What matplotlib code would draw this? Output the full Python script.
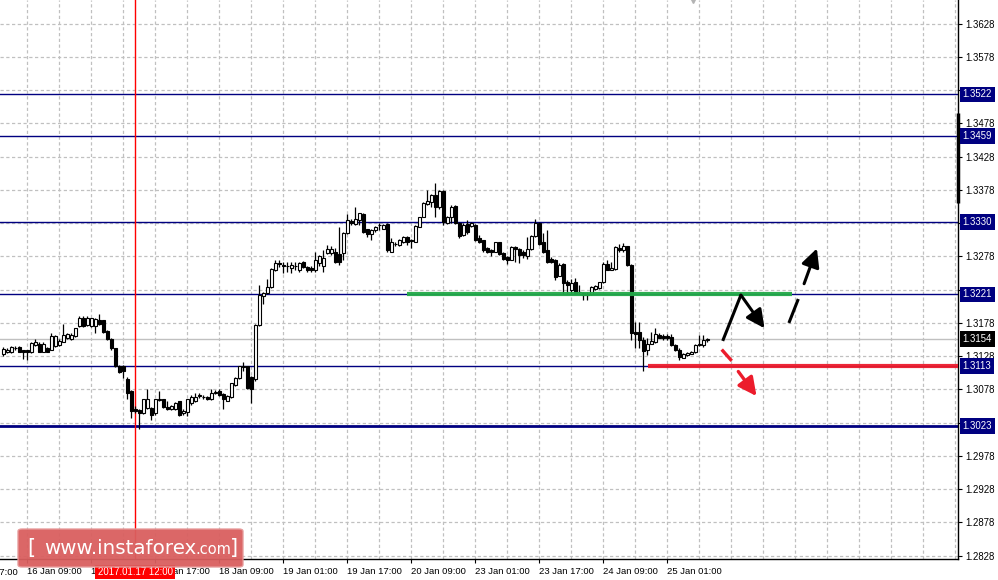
import matplotlib
matplotlib.use("Agg")
import matplotlib.pyplot as plt
import matplotlib.transforms as mtransforms
from matplotlib.patches import FancyBboxPatch, FancyArrowPatch
import numpy as np

# ---------------- data (H1 candles) -------------
opens = [1.3132,1.3134,1.3134,1.3140,1.3142,1.3137,1.3137,1.3134,1.3145,1.3147,
         1.3135,1.3140,1.3138,1.3144,1.3145,1.3150,1.3155,1.3154,1.3159,1.3173,
         1.3186,1.3175,1.3173,1.3173,1.3183,1.3182,1.3166,1.3154,1.3140,1.3113,
         1.3113,1.3094,1.3075,1.3048,1.3047,1.3043,1.3050,1.3050,1.3042,1.3062,
         1.3063,1.3052,1.3049,1.3049,1.3060,1.3042,1.3044,1.3057,1.3060,1.3068,
         1.3067,1.3067,1.3063,1.3073,1.3075,1.3071,1.3061,1.3066,1.3085,1.3095,
         1.3112,1.3113,1.3097,1.3093,1.3175,1.3219,1.3223,1.3232,1.3257,1.3268,
         1.3265,1.3263,1.3260,1.3264,1.3258,1.3270,1.3262,1.3260,1.3258,1.3268,
         1.3263,1.3283,1.3283,1.3285,1.3282,1.3283,1.3313,1.3332,1.3327,1.3333,
         1.3342,1.3319,1.3312,1.3318,1.3325,1.3320,1.3327,1.3285,1.3297,1.3295,
         1.3299,1.3307,1.3302,1.3300,1.3323,1.3338,1.3357,1.3360,1.3370,1.3352,
         1.3377,1.3329,1.3337,1.3354,1.3329,1.3310,1.3327,1.3324,1.3325,1.3305,
         1.3302,1.3290,1.3288,1.3285,1.3299,1.3283,1.3277,1.3273,1.3292,1.3289,
         1.3285,1.3279,1.3289,1.3309,1.3328,1.3299,1.3287,1.3274,1.3273,1.3249,
         1.3267,1.3240,1.3228,1.3239,1.3225,1.3223,1.3220,1.3222,1.3229,1.3230,
         1.3239,1.3267,1.3258,1.3259,1.3290,1.3287,1.3293,1.3265,1.3165,1.3164,
         1.3153,1.3138,1.3147,1.3150,1.3160,1.3158,1.3158,1.3157,1.3145,1.3138,
         1.3126,1.3130,1.3132,1.3135,1.3145,1.3145,1.3153]
highs = [1.3142,1.3140,1.3144,1.3144,1.3143,1.3138,1.3138,1.3150,1.3154,1.3149,
         1.3149,1.3142,1.3163,1.3160,1.3154,1.3176,1.3163,1.3163,1.3171,1.3188,
         1.3188,1.3188,1.3186,1.3185,1.3191,1.3183,1.3168,1.3155,1.3141,1.3115,
         1.3115,1.3096,1.3077,1.3053,1.3048,1.3064,1.3079,1.3052,1.3063,1.3075,
         1.3064,1.3060,1.3055,1.3059,1.3061,1.3048,1.3063,1.3070,1.3072,1.3072,
         1.3070,1.3068,1.3078,1.3077,1.3078,1.3073,1.3070,1.3088,1.3097,1.3113,
         1.3120,1.3113,1.3098,1.3176,1.3235,1.3225,1.3244,1.3260,1.3272,1.3272,
         1.3270,1.3270,1.3270,1.3269,1.3269,1.3271,1.3263,1.3264,1.3285,1.3280,
         1.3288,1.3295,1.3294,1.3290,1.3323,1.3315,1.3342,1.3334,1.3353,1.3344,
         1.3343,1.3320,1.3319,1.3324,1.3329,1.3327,1.3328,1.3305,1.3299,1.3304,
         1.3309,1.3309,1.3304,1.3325,1.3338,1.3360,1.3378,1.3372,1.3388,1.3378,
         1.3378,1.3339,1.3355,1.3355,1.3330,1.3328,1.3333,1.3330,1.3327,1.3310,
         1.3303,1.3292,1.3289,1.3300,1.3300,1.3285,1.3279,1.3293,1.3293,1.3290,
         1.3288,1.3308,1.3310,1.3334,1.3330,1.3314,1.3318,1.3277,1.3274,1.3268,
         1.3268,1.3243,1.3244,1.3245,1.3235,1.3225,1.3225,1.3234,1.3235,1.3240,
         1.3269,1.3272,1.3269,1.3293,1.3297,1.3298,1.3294,1.3267,1.3180,1.3180,
         1.3157,1.3155,1.3165,1.3170,1.3163,1.3162,1.3161,1.3162,1.3146,1.3140,
         1.3133,1.3135,1.3136,1.3146,1.3160,1.3160,1.3156]
lows = [1.3128,1.3133,1.3133,1.3138,1.3134,1.3124,1.3123,1.3133,1.3144,1.3134,
        1.3134,1.3134,1.3137,1.3142,1.3144,1.3149,1.3154,1.3153,1.3157,1.3172,
        1.3172,1.3173,1.3172,1.3163,1.3175,1.3163,1.3153,1.3138,1.3112,1.3103,
        1.3095,1.3064,1.3035,1.3043,1.3019,1.3041,1.3049,1.3032,1.3040,1.3060,
        1.3050,1.3047,1.3047,1.3047,1.3038,1.3040,1.3038,1.3055,1.3059,1.3065,
        1.3063,1.3062,1.3062,1.3071,1.3068,1.3049,1.3060,1.3065,1.3083,1.3094,
        1.3105,1.3078,1.3057,1.3090,1.3173,1.3207,1.3222,1.3230,1.3256,1.3262,
        1.3253,1.3255,1.3253,1.3258,1.3255,1.3261,1.3255,1.3254,1.3255,1.3264,
        1.3254,1.3282,1.3280,1.3268,1.3265,1.3273,1.3312,1.3325,1.3325,1.3325,
        1.3314,1.3307,1.3303,1.3315,1.3318,1.3319,1.3285,1.3284,1.3294,1.3294,
        1.3298,1.3295,1.3290,1.3299,1.3322,1.3337,1.3355,1.3353,1.3338,1.3350,
        1.3325,1.3327,1.3329,1.3327,1.3305,1.3309,1.3312,1.3323,1.3301,1.3298,
        1.3284,1.3283,1.3279,1.3284,1.3280,1.3273,1.3267,1.3272,1.3269,1.3268,
        1.3275,1.3274,1.3288,1.3308,1.3295,1.3283,1.3268,1.3268,1.3243,1.3248,
        1.3222,1.3222,1.3222,1.3222,1.3222,1.3213,1.3212,1.3220,1.3228,1.3229,
        1.3238,1.3257,1.3257,1.3258,1.3285,1.3285,1.3264,1.3153,1.3140,1.3140,
        1.3105,1.3130,1.3146,1.3148,1.3155,1.3153,1.3152,1.3143,1.3136,1.3122,
        1.3125,1.3128,1.3131,1.3133,1.3143,1.3142,1.3150]
closes = [1.3139,1.3138,1.3142,1.3141,1.3135,1.3134,1.3135,1.3148,1.3149,1.3135,
          1.3147,1.3135,1.3159,1.3159,1.3151,1.3160,1.3161,1.3160,1.3170,1.3186,
          1.3173,1.3186,1.3185,1.3184,1.3177,1.3165,1.3154,1.3140,1.3113,1.3104,
          1.3105,1.3073,1.3045,1.3045,1.3042,1.3063,1.3064,1.3040,1.3063,1.3063,
          1.3052,1.3049,1.3053,1.3058,1.3040,1.3046,1.3063,1.3067,1.3067,1.3069,
          1.3067,1.3063,1.3073,1.3074,1.3070,1.3063,1.3068,1.3087,1.3095,1.3113,
          1.3113,1.3080,1.3079,1.3175,1.3220,1.3223,1.3232,1.3259,1.3268,1.3267,
          1.3263,1.3263,1.3265,1.3264,1.3268,1.3262,1.3258,1.3258,1.3273,1.3279,
          1.3275,1.3289,1.3289,1.3270,1.3270,1.3314,1.3333,1.3328,1.3334,1.3343,
          1.3315,1.3312,1.3318,1.3323,1.3326,1.3325,1.3287,1.3299,1.3296,1.3302,
          1.3307,1.3300,1.3301,1.3324,1.3337,1.3359,1.3362,1.3370,1.3352,1.3377,
          1.3330,1.3338,1.3352,1.3328,1.3309,1.3325,1.3315,1.3328,1.3302,1.3300,
          1.3288,1.3285,1.3285,1.3299,1.3282,1.3274,1.3273,1.3292,1.3289,1.3280,
          1.3280,1.3289,1.3309,1.3329,1.3297,1.3284,1.3269,1.3270,1.3247,1.3265,
          1.3238,1.3235,1.3238,1.3223,1.3224,1.3220,1.3222,1.3232,1.3233,1.3239,
          1.3267,1.3258,1.3260,1.3292,1.3287,1.3294,1.3265,1.3163,1.3161,1.3152,
          1.3136,1.3147,1.3151,1.3161,1.3156,1.3156,1.3155,1.3145,1.3138,1.3127,
          1.3132,1.3133,1.3135,1.3145,1.3147,1.3153,1.3154]

time_labels = ["15 Jan 17:00", "16 Jan 09:00", "17 Jan 01:00", "17 Jan 17:00",
               "18 Jan 09:00", "19 Jan 01:00", "19 Jan 17:00", "20 Jan 09:00",
               "23 Jan 01:00", "23 Jan 17:00", "24 Jan 09:00", "25 Jan 01:00"]
time_label_bars = [-10, 6, 22, 38, 54, 70, 86, 102, 118, 134, 150, 166]

level_prices = [1.3522, 1.3459, 1.3330, 1.3221, 1.3113, 1.3023]
current_price = 1.3154
vline_bar = 33
vline_label = "2017.01.17 12:00"

support_level = 1.3221   # green
resist_level = 1.3114    # red
green_span = [100.9, 197.2]
red_span = [161.2, 238.7]

black_path_up = [(179.85, 1.3151), (184.4, 1.3220)]
black_arrow_down = [(184.4, 1.3220), (190.3, 1.3170)]
black_dash = [(196.4, 1.3178), (198.75, 1.3214)]
black_arrow_up = [(200.2, 1.3237), (203.4, 1.3290)]
red_dash = [(179.6, 1.3138), (182.1, 1.3121)]
red_arrow = [(183.75, 1.3105), (188.3, 1.3068)]

price_bar_range = [1.3358, 1.3494]

# ---------------- figure ----------------
W, H = 998, 580
plt.rcParams["font.family"] = ["Liberation Sans", "DejaVu Sans"]
fig = plt.figure(figsize=(W / 100, H / 100), dpi=100)
ax = fig.add_axes([0, 21 / H, 958 / W, 559 / H])
ax.set_facecolor("white")

xmin, xmax = -0.825, 238.675
ymin, ymax = 1.282304, 1.366364

grid_col = "#c0c0c0"
dash = (0, (2.6, 2.0))

# vertical grid
for g in np.arange(-2, 240, 8):
    ax.axvline(g, color=grid_col, lw=0.9, ls=dash, zorder=0)
# horizontal grid at price ticks
yticks = np.round(np.arange(1.2828, 1.3660, 0.005), 4)
for yv in yticks:
    ax.axhline(yv, color=grid_col, lw=0.9, ls=dash, zorder=0)

# current price line
ax.axhline(current_price, color="#c0c0c0", lw=1.0, zorder=1)

# level lines
for lp in level_prices:
    lw = 2.0 if lp == 1.3023 else 1.0
    ax.axhline(lp, color="#000080", lw=lw, zorder=1)

# vertical red line
ax.axvline(vline_bar, color="#ff0000", lw=1.0, zorder=1)

# green / red lines
ax.plot(green_span, [support_level, support_level], color="#22aa48", lw=3.0,
        solid_capstyle="butt", zorder=4, alpha=0.95)
ax.plot(red_span, [resist_level, resist_level], color="#ec1c2c",
        lw=3.0, solid_capstyle="butt", zorder=4, alpha=0.95)

# candles
x = np.arange(len(closes))
o = np.array(opens); c = np.array(closes); h = np.array(highs); l = np.array(lows)
ax.vlines(x, l, h, color="black", lw=0.9, zorder=3)
bull = c >= o
bottoms = np.minimum(o, c)
heights = np.maximum(np.abs(c - o), 0.00002)
ax.bar(x[bull], heights[bull], bottom=bottoms[bull], width=0.62,
       color="white", edgecolor="black", linewidth=0.8, zorder=3)
ax.bar(x[~bull], heights[~bull], bottom=bottoms[~bull], width=0.62,
       color="black", edgecolor="black", linewidth=0.8, zorder=3)

# arrows
def seg(pts, color, lw):
    (x0, y0), (x1, y1) = pts
    ax.plot([x0, x1], [y0, y1], color=color, lw=lw, solid_capstyle="butt", zorder=5)

def arrow(pts, color, lw):
    (x0, y0), (x1, y1) = pts
    ax.add_patch(FancyArrowPatch((x0, y0), (x1, y1),
                                 arrowstyle="-|>,head_length=11,head_width=5.5",
                                 mutation_scale=1, color=color, lw=lw,
                                 shrinkA=0, shrinkB=0, zorder=5))

seg(black_path_up, "black", 2.2)
arrow(black_arrow_down, "black", 2.2)
seg(black_dash, "black", 2.2)
arrow(black_arrow_up, "black", 2.2)
seg(red_dash, "#ec1c2c", 2.4)
arrow(red_arrow, "#ec1c2c", 2.4)

# spines / ticks
for s in ["left", "top"]:
    ax.spines[s].set_visible(False)
for s in ["right", "bottom"]:
    ax.spines[s].set_color("black")
    ax.spines[s].set_linewidth(1.0)

covered = {1.3528, 1.3328, 1.3228, 1.3028}
ax.yaxis.tick_right()
ax.set_yticks(yticks)
ax.set_yticklabels(["" if round(v, 4) in covered else f"{v:.4f}" for v in yticks])
ax.tick_params(axis="y", direction="out", length=3, width=0.8, pad=2,
               labelsize=6.9, colors="black")
ax.set_xticks(time_label_bars[1:])
ax.set_xticklabels(time_labels[1:])
ax.tick_params(axis="x", direction="out", length=3, width=0.8, pad=2.5,
               labelsize=6.8, colors="black")
for t in ax.get_xticklabels():
    t.set_horizontalalignment("left")

# limits after ticks (set_xticks may widen them)
ax.set_xlim(xmin, xmax)
ax.set_ylim(ymin, ymax)

transx = mtransforms.blended_transform_factory(ax.transData, ax.transAxes)
trans = mtransforms.blended_transform_factory(ax.transAxes, ax.transData)

# first (cut-off) time label
ax.annotate(time_labels[0], xy=(time_label_bars[0], 0), xycoords=transx,
            xytext=(0, -9.4), textcoords="offset points", ha="left", va="center",
            fontsize=6.8, color="black", annotation_clip=False)

# price bar at axis
ax.plot([1.0, 1.0], price_bar_range, color="black", lw=2.5, zorder=6,
        transform=trans, clip_on=False, solid_capstyle="butt")

# boxed price labels
for lp in level_prices:
    ax.annotate(f"{lp:.4f}", xy=(1.0, lp), xycoords=trans, xytext=(3.4, 0),
                textcoords="offset points", ha="left", va="center", fontsize=6.9,
                color="white", zorder=10, annotation_clip=False,
                bbox=dict(boxstyle="square,pad=0.28", fc="#000080", ec="none"))
ax.annotate(f"{current_price:.4f}", xy=(1.0, current_price), xycoords=trans,
            xytext=(3.4, 0), textcoords="offset points", ha="left", va="center",
            fontsize=6.9, color="white", zorder=10, annotation_clip=False,
            bbox=dict(boxstyle="square,pad=0.28", fc="black", ec="none"))

# red date label at bottom
ax.annotate(vline_label, xy=(vline_bar, 0), xycoords=transx, xytext=(0, -9.4),
            textcoords="offset points", ha="center", va="center", fontsize=6.9,
            color="white", zorder=10, annotation_clip=False,
            bbox=dict(boxstyle="square,pad=0.25", fc="#ff0000", ec="none"))

# small shift marker at top
ax.plot([172.5], [1.0], marker="v", markersize=5, color="#b4b4b4",
        transform=transx, clip_on=False, zorder=6)

# logo
logo = FancyBboxPatch((18 / W, 13 / H), 225 / W, 38 / H,
                      boxstyle="round,pad=0,rounding_size=0.004",
                      transform=fig.transFigure, fc="#d95f5f", ec="#e69a9a",
                      lw=1.0, alpha=0.95, zorder=20)
fig.patches.append(logo)
fig.text(27 / W, 32 / H, "[", color="white", fontsize=15, va="center",
         ha="left", family="DejaVu Sans", zorder=21)
fig.text(44 / W, 32 / H, "www.instaforex", color="white", fontsize=14.3,
         va="center", ha="left", family="DejaVu Sans", zorder=21)
fig.text(195 / W, 31 / H, ".com", color="white", fontsize=10.5, va="center",
         ha="left", family="DejaVu Sans", zorder=21)
fig.text(230 / W, 32 / H, "]", color="white", fontsize=15, va="center",
         ha="left", family="DejaVu Sans", zorder=21)

fig.savefig("out.png", dpi=100, facecolor="white")
